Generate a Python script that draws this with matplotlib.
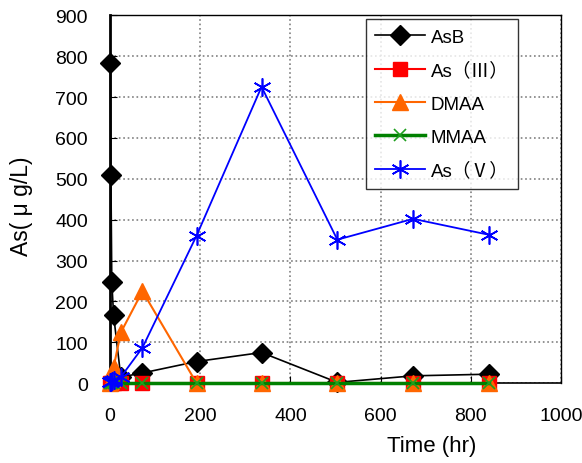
import matplotlib
matplotlib.use('Agg')
import matplotlib.pyplot as plt

plt.rcParams['font.family'] = ['Liberation Sans', 'Noto Sans CJK JP', 'DejaVu Sans']

# sampling times (hr)
time_hr = [1, 2, 4, 8, 24, 72, 192, 336, 504, 672, 840]

asb = [784, 510, 247, 166, 15, 25, 53, 75, 2, 18, 22]
as3 = [0, 0, 0, 0, 0, 0, 0, 0, 0, 0, 0]
dmaa = [0, 5, 10, 39, 124, 225, 0, 0, 0, 0, 0]
mmaa = [0, 0, 0, 0, 0, 0, 0, 0, 0, 0, 0]
as5 = [2, 4, 6, 8, 15, 87, 361, 725, 351, 402, 363]

labels = ['AsB', 'As（Ⅲ）', 'DMAA', 'MMAA', 'As（Ⅴ）']

fig = plt.figure(figsize=(5.82, 4.64), dpi=100)
ax = fig.add_axes([0.189, 0.172, 0.775, 0.793])

ax.plot(time_hr, asb, color='black', lw=1.2, marker='D', ms=10,
        mfc='black', mec='black', label=labels[0], clip_on=False, zorder=3)
ax.plot(time_hr, as3, color='red', lw=1.5, marker='s', ms=10,
        mfc='red', mec='red', label=labels[1], clip_on=False, zorder=4)
ax.plot(time_hr, dmaa, color='#FF6600', lw=1.5, marker='^', ms=12,
        mfc='#FF6600', mec='#FF6600', label=labels[2], clip_on=False, zorder=5)
ax.plot(time_hr, mmaa, color='green', lw=2.5, marker='x', ms=9, mew=1.2,
        mfc='#1f9f1f', mec='#1f9f1f', label=labels[3], clip_on=False, zorder=6)
ax.plot(time_hr, as5, color='blue', lw=1.3, marker=(6, 2, 0), ms=13, mew=1.2,
        mec='blue', label=labels[4], clip_on=False, zorder=7)

ax.set_xlim(0, 1000)
ax.set_ylim(0, 900)
ax.set_xticks(range(0, 1001, 200))
ax.set_yticks(range(0, 901, 100))
ax.tick_params(direction='in', labelsize=14, length=5)
ax.tick_params(axis='y', pad=16)
ax.tick_params(axis='x', pad=17)
ax.grid(True, linestyle=':', color='gray', lw=1.2)
ax.set_axisbelow(True)

for side in ['top', 'right']:
    ax.spines[side].set_linewidth(1.0)
ax.spines['left'].set_linewidth(2)
ax.spines['bottom'].set_linewidth(1.2)

ax.set_xlabel('Time (hr)', fontsize=16)
ax.xaxis.set_label_coords(0.714, -0.142)
ax.set_ylabel('As( μ g/L)', fontsize=16.5)
ax.yaxis.set_label_coords(-0.17, 0.484)

leg = ax.legend(loc='upper right', bbox_to_anchor=(0.905, 0.989), fontsize=13.5,
                frameon=True, fancybox=False, edgecolor='black',
                handlelength=2.67, handletextpad=0.3, labelspacing=0.85,
                borderpad=0.5, borderaxespad=0)
leg.get_frame().set_linewidth(1.0)

fig.savefig('out.png', dpi=100)
